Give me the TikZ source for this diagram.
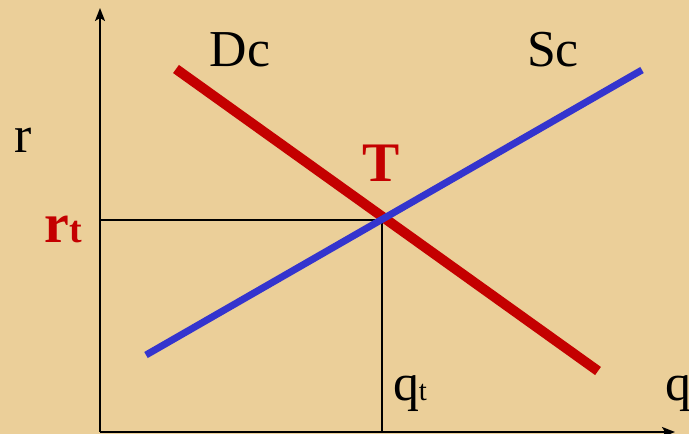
\documentclass[tikz,border=0pt]{standalone}
\usepackage{fontspec}
\setmainfont{Liberation Serif}
\usetikzlibrary{arrows.meta}
\definecolor{papercol}{RGB}{235, 207, 153}
\definecolor{demcol}{RGB}{196, 0, 0}
\definecolor{supcol}{RGB}{52, 52, 206}

\begin{document}
\begin{tikzpicture}[x=1bp, y=-1bp,
      axis/.style={draw=black, line width=2bp, -{Stealth[length=13bp,width=10bp,inset=3bp]}},
      guide/.style={draw=black, line width=1.4bp},
      dem/.style={draw=demcol, line width=10bp},
      sup/.style={draw=supcol, line width=7bp},
      lbl/.style={inner sep=0pt, anchor=base, font=\fontsize{52}{56}\selectfont},
      eqlbl/.style={inner sep=0pt, anchor=base, text=demcol, font=\bfseries\fontsize{56}{60}\selectfont}]
    \fill[papercol] (0, 0) rectangle (689, 434);
    \useasboundingbox (0, 0) rectangle (689, 434);
    \coordinate (o)    at (100, 432);
    \coordinate (ytop) at (100, 8);
    \coordinate (xend) at (675, 432);
    \coordinate (e)    at (382, 220);
    \coordinate (ey)   at (100, 220);
    \coordinate (ex)   at (382, 432);
    \coordinate (d1)   at (176, 69);
    \coordinate (d2)   at (598, 371);
    \coordinate (s1)   at (146, 355);
    \coordinate (s2)   at (642, 70);
    \draw[guide] (ey) -- (e);
    \draw[guide] (e) -- (ex);
    \draw[axis] (o) -- (ytop);
    \draw[axis] (o) -- (xend);
    \draw[dem] (d1) -- (d2);
    \draw[sup] (s1) -- (s2);
    \node[lbl]   (dc) at (240, 67)  {Dc};
    \node[lbl]   (sc) at (553, 67)  {Sc};
    \node[lbl]   (r)  at (23, 153)  {r};
    \node[lbl]   (q)  at (678, 400) {q};
    \node[lbl]   (qt) at (410, 400) {q{\fontsize{29}{31}\selectfont t}};
    \node[eqlbl] (rt) at (63, 243)  {r{\fontsize{38}{40}\selectfont t}};
    \node[eqlbl] (t)  at (381, 182) {T};
  \end{tikzpicture}
\end{document}
